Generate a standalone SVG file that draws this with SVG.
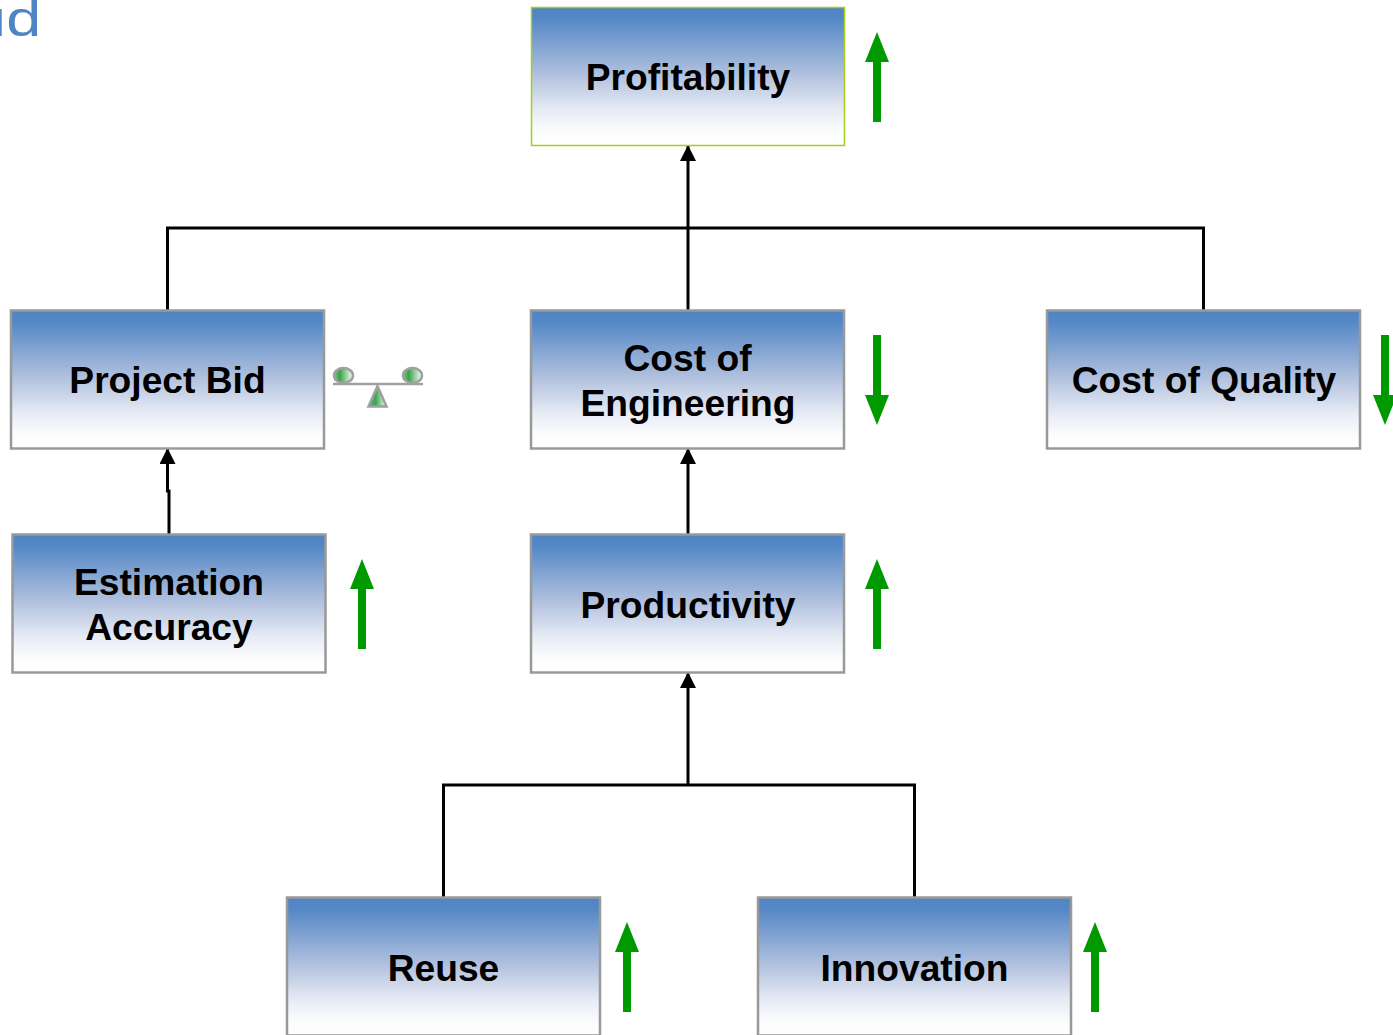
<svg xmlns="http://www.w3.org/2000/svg" width="1393" height="1035" viewBox="0 0 1393 1035">
<style>
text{font-family:"Liberation Sans",Arial,sans-serif}
.n rect{fill:url(#g);stroke:#999;stroke-width:2.5}
.n text{font-size:37.200px;font-weight:bold;fill:#000;text-anchor:middle}
.c{fill:none;stroke:#000;stroke-width:3}
.up{fill:#090}
</style>
<defs>
<linearGradient id="g" x1="0" y1="0" x2="0" y2="1"><stop offset="0" stop-color="#4f85c5"/><stop offset=".08" stop-color="#5487c6"/><stop offset=".5" stop-color="#b4c3df"/><stop offset=".75" stop-color="#e8ecf5"/><stop offset=".9" stop-color="#fbfcfd"/><stop offset="1" stop-color="#fff"/></linearGradient>
<linearGradient id="b" x1="0" y1="0" x2="1" y2="0"><stop offset="0" stop-color="#7cc487"/><stop offset=".3" stop-color="#3aa249"/><stop offset="1" stop-color="#fff"/></linearGradient>
<linearGradient id="t" x1="0" y1="0" x2="1" y2="0"><stop offset="0" stop-color="#5db268"/><stop offset=".4" stop-color="#3fa64d"/><stop offset="1" stop-color="#fff"/></linearGradient>
<marker id="a" markerUnits="userSpaceOnUse" markerWidth="16" markerHeight="16" refX="15" refY="8" orient="auto" viewBox="0 0 16 16"><path d="M0 0L16 8L0 16Z" fill="#000"/></marker>
<path id="arr" class="up" d="M-4 45V-15H-12L0 -45L12 -15H4V45Z"/>
</defs>
<text transform="translate(-28.900 36) scale(1.260 1)" font-size="50" fill="#4f85c5">ud</text>
<g id="connectors">
<path class="c" marker-end="url(#a)" d="M688 310V146"/>
<path class="c" d="M167.500 310V228H1203.500V310"/>
<path class="c" marker-end="url(#a)" d="M169 534V491H167.500V449"/>
<path class="c" marker-end="url(#a)" d="M688 534V449"/>
<path class="c" marker-end="url(#a)" d="M688 785V673"/>
<path class="c" d="M443.500 897V785H914.500V897"/>
</g>
<g id="profitability" class="n"><rect x="531.500" y="7.500" width="313" height="138" style="stroke:#a4cf1e;stroke-width:1.500"/><text x="688" y="90">Profitability</text></g>
<g id="project-bid" class="n"><rect x="11" y="310.500" width="313" height="138"/><text x="167.500" y="393">Project Bid</text></g>
<g id="cost-engineering" class="n"><rect x="531" y="310.500" width="313" height="138"/><text x="687.500" y="371">Cost of</text><text x="688" y="416">Engineering</text></g>
<g id="cost-quality" class="n"><rect x="1047" y="310.500" width="313" height="138"/><text x="1204" y="393">Cost of Quality</text></g>
<g id="estimation-accuracy" class="n"><rect x="12.500" y="534.500" width="313" height="138"/><text x="169" y="595">Estimation</text><text x="169" y="640">Accuracy</text></g>
<g id="productivity" class="n"><rect x="531" y="534.500" width="313" height="138"/><text x="688" y="618">Productivity</text></g>
<g id="reuse" class="n"><rect x="287" y="897.500" width="313" height="138"/><text x="443.500" y="981">Reuse</text></g>
<g id="innovation" class="n"><rect x="758" y="897.500" width="313" height="138"/><text x="914.500" y="981">Innovation</text></g>
<g id="indicators">
<use href="#arr" x="877" y="77"/>
<use href="#arr" transform="translate(877 380) scale(1 -1)"/>
<use href="#arr" transform="translate(1385 380) scale(1 -1)"/>
<use href="#arr" x="362" y="604"/>
<use href="#arr" x="877" y="604"/>
<use href="#arr" x="627" y="967"/>
<use href="#arr" x="1095" y="967"/>
</g>
<g id="balance" stroke="#a0a0a0">
<path d="M333 384H423" stroke-width="2.500" fill="none"/>
<ellipse cx="343.500" cy="375.500" rx="9.500" ry="7.500" fill="url(#b)" stroke-width="2.500"/>
<ellipse cx="412.500" cy="375.500" rx="9.500" ry="7.500" fill="url(#b)" stroke-width="2.500"/>
<path d="M377.500 386L368.500 406.500H386.500Z" fill="url(#t)" stroke-width="2.500"/>
</g>
</svg>
